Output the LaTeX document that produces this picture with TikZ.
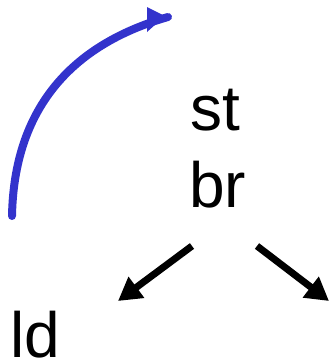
\documentclass[tikz,border=0pt]{standalone}
\usepackage{fontspec}
\setmainfont{Liberation Sans}
\usetikzlibrary{arrows.meta}
\definecolor{arrowblue}{RGB}{51,51,204}
\tikzset{
  lbl/.style={inner sep=0pt, anchor=base west, font=\fontsize{64}{64}\selectfont},
  blk/.style={line width=7pt, -{Triangle[length=23pt,width=25pt]}},
  blu/.style={line width=8pt, arrowblue, line cap=round}
}
\begin{document}
\begin{tikzpicture}[x=1pt,y=1pt]
\useasboundingbox (0,0) rectangle (329,-362);
\node[lbl] (st) at (190,-130) {st};
\node[lbl] (br) at (189,-207) {br};
\node[lbl] (ld) at (10,-357) {ld};
\coordinate (a1s) at (192,-246);
\coordinate (a1e) at (118,-301);
\coordinate (a2s) at (257,-246);
\coordinate (a2e) at (329,-301);
\draw[blk] (a1s) -- (a1e);
\draw[blk] (a2s) -- (a2e);
\coordinate (bs) at (12,-216);
\coordinate (be) at (168,-17);
\draw[blu] (bs) .. controls (14,-110) and (70,-45) .. (be);
\fill[arrowblue] (147,-7) -- (147,-32) -- (165,-16) -- cycle;
\end{tikzpicture}
\end{document}
